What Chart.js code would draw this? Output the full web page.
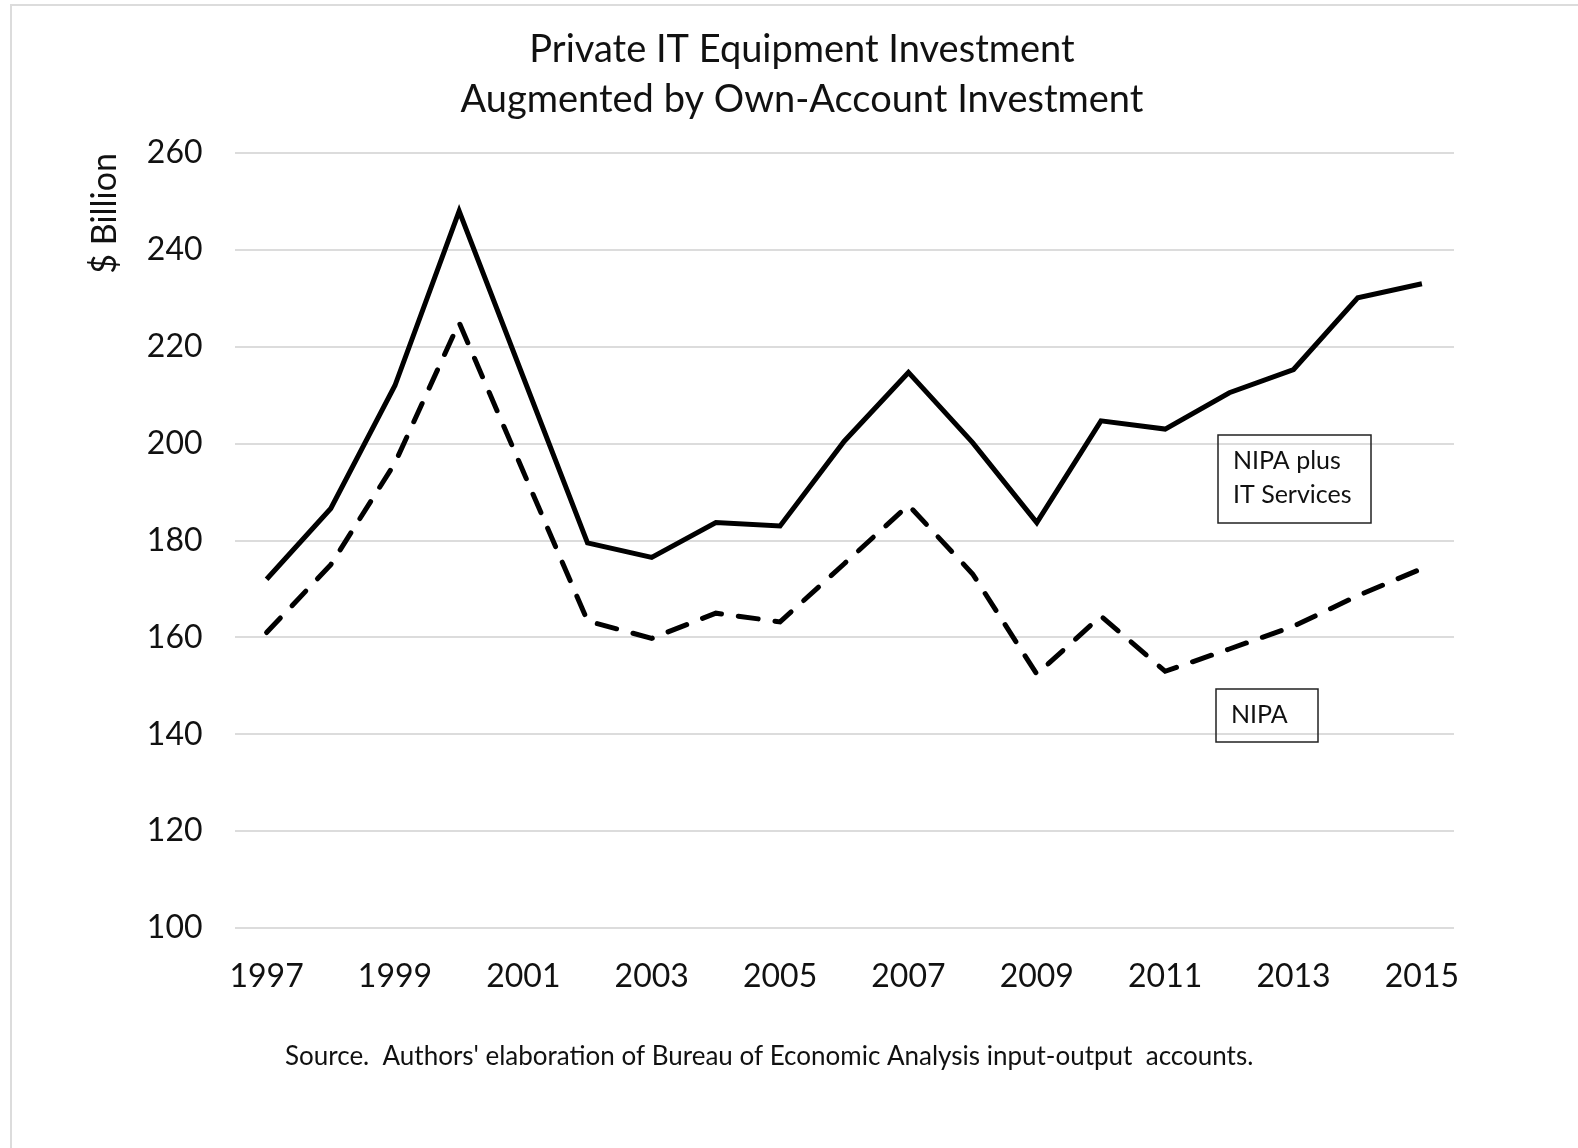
<!DOCTYPE html>
<html>
<head>
<meta charset="utf-8">
<title>Private IT Equipment Investment</title>
<script src="https://cdn.jsdelivr.net/npm/chart.js@4.4.0/dist/chart.umd.min.js"></script>
<style>
    html, body { margin: 0; padding: 0; background: #fff; }
    #wrap { position: relative; width: 1578px; height: 1148px; }
</style>
</head>
<body>
<div id="wrap"><canvas id="chart" width="1578" height="1148"></canvas></div>
<script>
// Datos ($ miles de millones)
const years = ['1997', '1998', '1999', '2000', '2001', '2002', '2003', '2004', '2005', '2006',
               '2007', '2008', '2009', '2010', '2011', '2012', '2013', '2014', '2015'];
const nipaPlusIT = [172, 186.6, 212, 248, 213.7, 179.5, 176.5, 183.7, 183, 200.5,
                    214.7, 200.2, 183.7, 204.7, 203, 210.5, 215.3, 230.1, 233];
const nipa = [161, 175, 196, 225, 194.2, 163.4, 159.8, 165, 163.2, 175.2,
              187.3, 173.1, 152.4, 164.4, 153, 157.6, 162.3, 168.6, 174.2];

const titleLines = ['Private IT Equipment Investment', 'Augmented by Own-Account Investment'];
const yAxisLabel = '$ Billion';
const labelSolid = ['NIPA plus', 'IT Services'];
const labelDashed = ['NIPA'];
const sourceNote = "Source.  Authors' elaboration of Bureau of Economic Analysis input-output  accounts.";

const FONT = 'Lato, "Open Sans", sans-serif';
const INK = '#111';

// marco, título, cajas de texto y nota de fuente
const notas = {
    id: 'notas',
    beforeDraw(chart) {
        const ctx = chart.ctx;
        ctx.save();
        ctx.strokeStyle = '#dcdcdc';
        ctx.lineWidth = 2;
        ctx.beginPath();
        ctx.moveTo(11, 1148);
        ctx.lineTo(11, 5);
        ctx.lineTo(1578, 5);
        ctx.stroke();
        ctx.restore();
    },
    afterDraw(chart) {
        const ctx = chart.ctx;
        ctx.save();
        ctx.fillStyle = INK;
        ctx.textBaseline = 'middle';

        // título en dos líneas
        ctx.textAlign = 'center';
        ctx.font = '38px ' + FONT;
        titleLines.forEach((line, i) => ctx.fillText(line, 802, 50 + i * 50));

        // cajas de las series
        ctx.strokeStyle = '#222';
        ctx.lineWidth = 1.5;
        ctx.strokeRect(1218, 435, 153, 88);
        ctx.strokeRect(1216, 689, 102, 53);

        ctx.textAlign = 'left';
        ctx.font = '25px ' + FONT;
        ctx.fillText(labelSolid[0], 1233, 461);
        ctx.fillText(labelSolid[1], 1233, 495);
        ctx.fillText(labelDashed[0], 1231, 715);

        ctx.font = '26px ' + FONT;
        ctx.fillText(sourceNote, 285, 1057);
        ctx.restore();
    }
};

new Chart(document.getElementById('chart'), {
    type: 'line',
    data: {
        labels: years,
        datasets: [{
            label: labelSolid.join(' '),
            data: nipaPlusIT,
            borderColor: '#000',
            borderWidth: 5,
            borderJoinStyle: 'miter',
            pointRadius: 0,
            tension: 0,
            fill: false
        }, {
            label: labelDashed[0],
            data: nipa,
            borderColor: '#000',
            borderWidth: 5,
            borderDash: [20, 17],
            borderCapStyle: 'round',
            pointRadius: 0,
            tension: 0,
            fill: false
        }]
    },
    options: {
        responsive: false,
        animation: false,
        devicePixelRatio: 1,
        layout: {
            padding: { left: 60, right: 124, top: 153, bottom: 155 }
        },
        plugins: {
            legend: { display: false },
            tooltip: { enabled: false },
            title: { display: false }
        },
        scales: {
            x: {
                offset: true,
                grid: { display: false, drawTicks: false },
                border: { display: false },
                ticks: {
                    autoSkip: false,
                    maxRotation: 0,
                    padding: 29,
                    color: INK,
                    font: { family: FONT, size: 32 },
                    callback: function (value, index) {
                        return index % 2 === 0 ? this.getLabelForValue(value) : '';
                    }
                },
                afterFit: (scale) => { scale.height = 65; }
            },
            y: {
                min: 100,
                max: 260,
                grid: { color: '#dcdcdc', lineWidth: 2, drawTicks: false },
                border: { display: false },
                ticks: {
                    stepSize: 20,
                    padding: 32,
                    color: INK,
                    font: { family: FONT, size: 32 }
                },
                title: {
                    display: true,
                    text: yAxisLabel,
                    align: 'end',
                    color: INK,
                    font: { family: FONT, size: 34 },
                    padding: { top: 25, bottom: 0 }
                },
                afterFit: (scale) => { scale.width = 174.5; }
            }
        }
    },
    plugins: [notas]
});
</script>
</body>
</html>
